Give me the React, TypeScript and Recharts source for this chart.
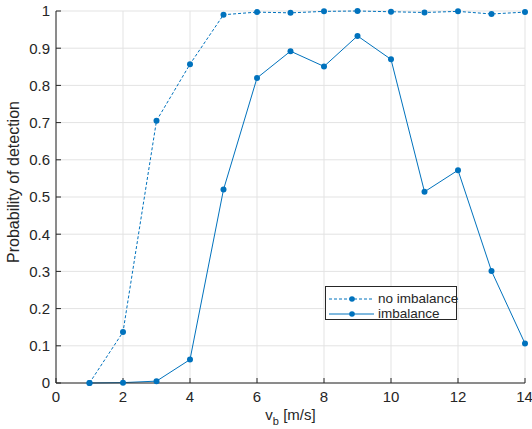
import React from 'react';
import { LineChart, Line, XAxis, YAxis, CartesianGrid, Legend, Label } from 'recharts';

// wind speed v_b [m/s]
const speeds = [1, 2, 3, 4, 5, 6, 7, 8, 9, 10, 11, 12, 13, 14];
const noImbalance = [0, 0.137, 0.705, 0.857, 0.99, 0.997, 0.995, 0.999, 1.0, 0.998, 0.996, 0.999, 0.992, 0.997];
const imbalance = [0, 0.001, 0.005, 0.063, 0.52, 0.82, 0.892, 0.851, 0.933, 0.87, 0.514, 0.572, 0.301, 0.106];

const xTicks = [0, 2, 4, 6, 8, 10, 12, 14];
const yTicks = [0, 0.1, 0.2, 0.3, 0.4, 0.5, 0.6, 0.7, 0.8, 0.9, 1];

const BLUE = '#0072BD';
const AXIS = '#262626';
const FONT = 'Liberation Sans, Arial, Helvetica, sans-serif';

const data = speeds.map((v, i) => ({ v, noImb: noImbalance[i], imb: imbalance[i] }));

const LegendBox = () => (
  <div
    style={{
      border: `1px solid ${AXIS}`,
      background: '#fff',
      fontFamily: FONT,
      fontSize: 13.5,
      color: AXIS,
      padding: '4px 4px 0px 2px',
      lineHeight: '15px',
      boxSizing: 'border-box',
      width: 132,
      height: 34,
      whiteSpace: 'nowrap',
    }}
  >
    {[
      { name: 'no imbalance', dash: '3 2' },
      { name: 'imbalance', dash: undefined },
    ].map((e) => (
      <div key={e.name} style={{ display: 'flex', alignItems: 'center', height: 15 }}>
        <svg width={48} height={10} style={{ marginRight: 2, flexShrink: 0 }}>
          <line x1={1} y1={5} x2={46} y2={5} stroke={BLUE} strokeWidth={1} strokeDasharray={e.dash} />
          <circle cx={24} cy={5} r={2.8} fill={BLUE} />
        </svg>
        <span>{e.name}</span>
      </div>
    ))}
  </div>
);

const XLabel = (props: any) => {
  const vb = props.viewBox || {};
  const cx = vb.x + vb.width / 2;
  return (
    <text x={cx} y={420} textAnchor="middle" fontFamily={FONT} fontSize={15} fill={AXIS}>
      v
      <tspan dy={5} fontSize={11}>b</tspan>
      <tspan dy={-5}> [m/s]</tspan>
    </text>
  );
};

const YLabel = () => (
  <text
    transform="translate(19,182) rotate(-90)"
    textAnchor="middle"
    fontFamily={FONT}
    fontSize={16}
    fill={AXIS}
  >
    Probability of detection
  </text>
);

export default function App() {
  return (
    <div style={{ position: 'absolute', left: 0, top: 0, background: '#fff' }}>
      <LineChart
        width={532}
        height={429}
        data={data}
        margin={{ top: 11, right: 7, bottom: 16, left: 10 }}
      >
        <CartesianGrid stroke="#e3e3e3" strokeWidth={1} horizontalValues={yTicks} verticalValues={xTicks} />
        <XAxis
          dataKey="v"
          type="number"
          domain={[0, 14]}
          ticks={xTicks}
          height={30}
          axisLine={{ stroke: AXIS }}
          tickLine={{ stroke: AXIS }}
          tickSize={-5}
          tickMargin={13}
          tick={{ fill: AXIS, fontSize: 15, fontFamily: FONT }}
        >
          <Label content={<XLabel />} />
        </XAxis>
        <XAxis
          xAxisId="top"
          orientation="top"
          dataKey="v"
          type="number"
          domain={[0, 14]}
          ticks={xTicks}
          height={0}
          axisLine={{ stroke: AXIS }}
          tickLine={{ stroke: AXIS }}
          tickSize={-5}
          tickFormatter={() => ''}
        />
        <YAxis
          type="number"
          domain={[0, 1]}
          ticks={yTicks}
          width={46}
          axisLine={{ stroke: AXIS }}
          tickLine={{ stroke: AXIS }}
          tickSize={-5}
          tickMargin={11}
          tick={{ fill: AXIS, fontSize: 15, fontFamily: FONT }}
        >
          <Label content={<YLabel />} />
        </YAxis>
        <YAxis
          yAxisId="right"
          orientation="right"
          type="number"
          domain={[0, 1]}
          ticks={yTicks}
          width={0}
          axisLine={{ stroke: AXIS }}
          tickLine={{ stroke: AXIS }}
          tickSize={-5}
          tickFormatter={() => ''}
        />
        <Line
          dataKey="noImb"
          name="no imbalance"
          stroke={BLUE}
          strokeWidth={1}
          strokeDasharray="3 2"
          dot={{ r: 3, fill: BLUE, stroke: BLUE, strokeWidth: 0 }}
          isAnimationActive={false}
        />
        <Line
          dataKey="imb"
          name="imbalance"
          stroke={BLUE}
          strokeWidth={1}
          dot={{ r: 3, fill: BLUE, stroke: BLUE, strokeWidth: 0 }}
          isAnimationActive={false}
        />
        <Legend
          layout="horizontal"
          verticalAlign="middle"
          align="center"
          content={<LegendBox />}
          wrapperStyle={{ position: 'absolute', left: 325, top: 286, width: 132, height: 34 }}
        />
      </LineChart>
    </div>
  );
}
